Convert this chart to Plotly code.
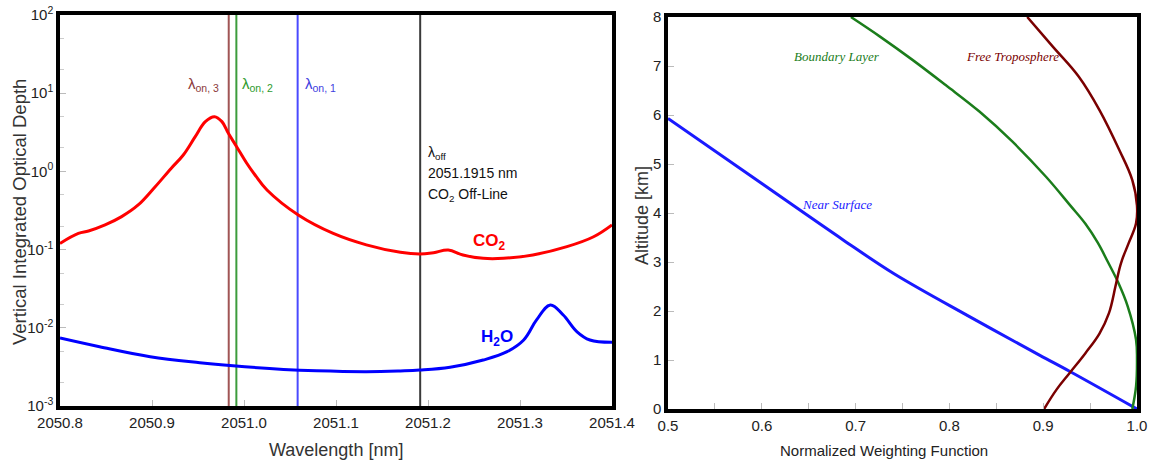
import plotly.graph_objects as go

# ---- Left panel: vertical integrated optical depth vs wavelength ----
co2_wl = [2050.800, 2050.820, 2050.831, 2050.849, 2050.867, 2050.885, 2050.903,
          2050.921, 2050.934, 2050.947, 2050.958, 2050.968, 2050.976, 2050.983,
          2050.992, 2051.003, 2051.012, 2051.025, 2051.059, 2051.097, 2051.133,
          2051.170, 2051.191, 2051.206, 2051.222, 2051.238, 2051.260, 2051.282,
          2051.314, 2051.351, 2051.380, 2051.400]
co2_od = [0.120, 0.161, 0.173, 0.207, 0.264, 0.372, 0.627,
          1.10, 1.62, 2.78, 4.33, 5.01, 4.33, 3.07,
          2.07, 1.27, 0.90, 0.578, 0.277, 0.161, 0.115,
          0.0923, 0.0879, 0.0913, 0.0988, 0.0853, 0.0774, 0.0774,
          0.0853, 0.109, 0.146, 0.207]

h2o_wl = [2050.800, 2050.843, 2050.898, 2050.952, 2050.988, 2051.043, 2051.079,
          2051.133, 2051.170, 2051.191, 2051.224, 2051.260, 2051.286, 2051.304,
          2051.318, 2051.333, 2051.347, 2051.362, 2051.376, 2051.400]
h2o_od = [0.00741, 0.00573, 0.00427, 0.00358, 0.00327, 0.00294, 0.00282,
          0.00275, 0.00281, 0.00288, 0.00313, 0.00387, 0.00495, 0.00699,
          0.0126, 0.0196, 0.0146, 0.0089, 0.00699, 0.00653]

# laser wavelengths: on-line 3, 2, 1 and the off-line
line_wl = [2050.9834, 2050.9917, 2051.0583, 2051.1915]
line_colors = ["#a05555", "#3c9c3c", "#4a4aff", "#3a3a3a"]
label_colors = ["#8b3a3a", "#2e9b2e", "#4040e0", "#111111"]

y_exponents = [-3, -2, -1, 0, 1, 2]
wl_ticks = [2050.8, 2050.9, 2051.0, 2051.1, 2051.2, 2051.3, 2051.4]

# ---- Right panel: normalized weighting functions vs altitude ----
near_w = [0.500, 0.600, 0.686, 0.741, 0.820, 0.896, 0.929, 1.000]
near_alt = [5.93, 4.60, 3.46, 2.76, 1.90, 1.10, 0.76, 0.00]

bl_w = [0.695, 0.726, 0.761, 0.796, 0.832, 0.867, 0.903, 0.929, 0.945, 0.958,
        0.969, 0.980, 0.990, 0.999, 1.000, 0.999, 0.995]
bl_alt = [8.00, 7.60, 7.12, 6.61, 6.07, 5.46, 4.74, 4.15, 3.78, 3.40,
          3.00, 2.58, 2.10, 1.41, 1.00, 0.46, 0.00]

ft_w = [0.883, 0.910, 0.938, 0.960, 0.981, 0.995, 1.000, 0.999, 0.991, 0.984,
        0.981, 0.977, 0.970, 0.960, 0.945, 0.928, 0.914, 0.901]
ft_alt = [8.00, 7.40, 6.78, 6.10, 5.29, 4.67, 4.15, 3.79, 3.38, 3.04,
          2.84, 2.50, 1.95, 1.54, 1.14, 0.73, 0.39, 0.00]

w_ticks = [0.5, 0.6, 0.7, 0.8, 0.9, 1.0]
alt_ticks = [0, 1, 2, 3, 4, 5, 6, 7, 8]

SANS = "Liberation Sans, Arial, sans-serif"
SERIF = "Liberation Serif, Times New Roman, serif"

fig = go.Figure()

fig.add_trace(go.Scatter(x=co2_wl, y=co2_od, mode="lines",
                         line=dict(color="#ff0000", width=3, shape="spline", smoothing=1.1),
                         xaxis="x", yaxis="y", showlegend=False))
fig.add_trace(go.Scatter(x=h2o_wl, y=h2o_od, mode="lines",
                         line=dict(color="#0000ff", width=3, shape="spline", smoothing=1.1),
                         xaxis="x", yaxis="y", showlegend=False))

fig.add_trace(go.Scatter(x=near_w, y=near_alt, mode="lines",
                         line=dict(color="#1a1aff", width=3, shape="spline", smoothing=1.0),
                         xaxis="x2", yaxis="y2", showlegend=False))
fig.add_trace(go.Scatter(x=bl_w, y=bl_alt, mode="lines",
                         line=dict(color="#1b7d1b", width=2.5, shape="spline", smoothing=1.1),
                         xaxis="x2", yaxis="y2", showlegend=False))
fig.add_trace(go.Scatter(x=ft_w, y=ft_alt, mode="lines",
                         line=dict(color="#7a0000", width=2.5, shape="spline", smoothing=1.1),
                         xaxis="x2", yaxis="y2", showlegend=False))

shapes = []
for wl, col in zip(line_wl, line_colors):
    shapes.append(dict(type="line", xref="x", yref="y domain", x0=wl, x1=wl, y0=0, y1=1,
                       line=dict(color=col, width=2), layer="below"))

annotations = []
# on-line labels
annotations.append(dict(x=line_wl[0], y=1.105, xref="x", yref="y", text="λ<sub>on, 3</sub>",
                        showarrow=False, xanchor="right", yanchor="middle", xshift=-8,
                        font=dict(family=SANS, size=15, color=label_colors[0])))
annotations.append(dict(x=line_wl[1], y=1.105, xref="x", yref="y", text="λ<sub>on, 2</sub>",
                        showarrow=False, xanchor="left", yanchor="middle", xshift=4,
                        font=dict(family=SANS, size=15, color=label_colors[1])))
annotations.append(dict(x=line_wl[2], y=1.105, xref="x", yref="y", text="λ<sub>on, 1</sub>",
                        showarrow=False, xanchor="left", yanchor="middle", xshift=5,
                        font=dict(family=SANS, size=15, color=label_colors[2])))
# off-line label, one annotation per line of text
off_lines = ["λ<sub>off</sub>", "%.4f nm" % line_wl[3], "CO<sub>2</sub> Off-Line"]
off_y = [0.235, -0.020, -0.302]
for txt, yy in zip(off_lines, off_y):
    annotations.append(dict(x=line_wl[3], y=yy, xref="x", yref="y", text=txt,
                            showarrow=False, xanchor="left", yanchor="middle", xshift=6,
                            font=dict(family=SANS, size=14, color=label_colors[3])))
annotations.append(dict(x=2051.267, y=-0.903, xref="x", yref="y", text="<b>CO<sub>2</sub></b>",
                        showarrow=False, xanchor="center", yanchor="middle",
                        font=dict(family=SANS, size=17, color="#ff0000")))
annotations.append(dict(x=2051.275, y=-2.13, xref="x", yref="y", text="<b>H<sub>2</sub>O</b>",
                        showarrow=False, xanchor="center", yanchor="middle",
                        font=dict(family=SANS, size=17, color="#0000ff")))

annotations.append(dict(x=0.680, y=7.2, xref="x2", yref="y2", text="<i>Boundary Layer</i>",
                        showarrow=False, xanchor="center", yanchor="middle",
                        font=dict(family=SERIF, size=13, color="#1b7d1b")))
annotations.append(dict(x=0.867, y=7.2, xref="x2", yref="y2", text="<i>Free Troposphere</i>",
                        showarrow=False, xanchor="center", yanchor="middle",
                        font=dict(family=SERIF, size=13, color="#7a0000")))
annotations.append(dict(x=0.680, y=4.18, xref="x2", yref="y2", text="<i>Near Surface</i>",
                        showarrow=False, xanchor="center", yanchor="middle",
                        font=dict(family=SERIF, size=13, color="#1a1aff")))

# axis titles
annotations.append(dict(x=336 / 1151, y=1 - 450 / 461, xref="paper", yref="paper", text="Wavelength [nm]",
                        showarrow=False, xanchor="center", yanchor="middle",
                        font=dict(family=SANS, size=18, color="#333333")))
annotations.append(dict(x=19 / 1151, y=1 - 212 / 461, xref="paper", yref="paper",
                        text="Vertical Integrated Optical Depth", textangle=-90,
                        showarrow=False, xanchor="center", yanchor="middle",
                        font=dict(family=SANS, size=18.5, color="#333333")))
annotations.append(dict(x=884 / 1151, y=1 - 450 / 461, xref="paper", yref="paper",
                        text="Normalized Weighting Function",
                        showarrow=False, xanchor="center", yanchor="middle",
                        font=dict(family=SANS, size=15, color="#222222")))
annotations.append(dict(x=642 / 1151, y=1 - 216 / 461, xref="paper", yref="paper",
                        text="Altitude [km]", textangle=-90,
                        showarrow=False, xanchor="center", yanchor="middle",
                        font=dict(family=SANS, size=18, color="#333333")))

axis_common = dict(showline=True, linewidth=3.5, linecolor="black", mirror=True,
                   ticks="inside", ticklen=6, tickwidth=1, tickcolor="#bbbbbb",
                   showgrid=False, zeroline=False, automargin=False,
                   tickfont=dict(family=SANS, size=15, color="#222222"))

fig.update_layout(
    width=1151, height=461,
    margin=dict(l=0, r=0, t=0, b=0, pad=0),
    paper_bgcolor="white", plot_bgcolor="white",
    shapes=shapes, annotations=annotations,
    xaxis=dict(domain=[60 / 1151, 612 / 1151], range=[2050.8, 2051.4],
               tickvals=wl_ticks, ticktext=["%.1f" % t for t in wl_ticks],
               anchor="y", **axis_common),
    yaxis=dict(domain=[1 - 406 / 461, 1 - 15 / 461], type="log", range=[-3, 2],
               tickvals=[10.0 ** e for e in y_exponents],
               ticktext=["10<sup>%d</sup>" % e for e in y_exponents],
               minor=dict(ticks="inside", ticklen=4, tickcolor="#cccccc", dtick="D2"),
               anchor="x", **axis_common),
    xaxis2=dict(domain=[668 / 1151, 1137 / 1151], range=[0.5, 1.0],
                tickvals=w_ticks, ticktext=["%.1f" % t for t in w_ticks],
                minor=dict(ticks="inside", ticklen=6, tickcolor="#bbbbbb", dtick=0.05),
                anchor="y2", **axis_common),
    yaxis2=dict(domain=[1 - 409 / 461, 1 - 17 / 461], range=[0, 8],
                tickvals=alt_ticks,
                anchor="x2", **axis_common),
)

fig.write_html("out.html")
